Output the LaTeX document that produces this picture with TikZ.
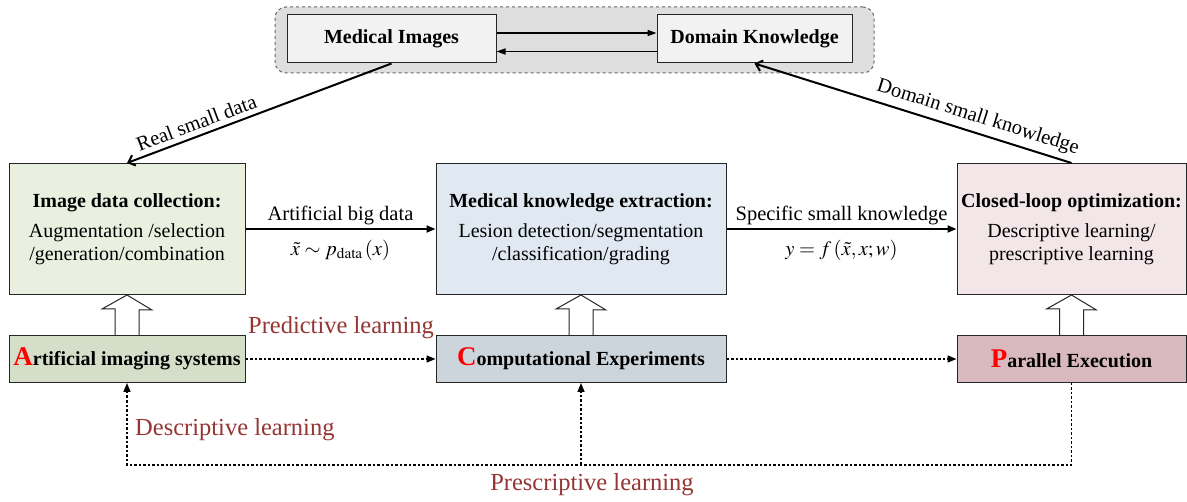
\documentclass[tikz,border=0pt]{standalone}
\usepackage{mathptmx}
\usepackage[no-math]{fontspec}
\setmainfont{Liberation Serif}
\usetikzlibrary{arrows.meta,calc}
\definecolor{grpfill}{HTML}{DEDEDE}
\definecolor{topfill}{HTML}{F2F2F2}
\definecolor{idcfill}{HTML}{E9F0DF}
\definecolor{mkefill}{HTML}{E0E9F1}
\definecolor{clofill}{HTML}{F2E6E8}
\definecolor{aisfill}{HTML}{D4DEC9}
\definecolor{cefill}{HTML}{CCD5DC}
\definecolor{pefill}{HTML}{D8B9BE}
\definecolor{lblred}{HTML}{943634}
\newcommand{\bigred}[1]{{\fontsize{27}{27}\selectfont\color{red}#1}}
\begin{document}
\begin{tikzpicture}[x=1pt,y=-1pt,
  txt/.style={font=\fontsize{20}{23}\selectfont},
  box/.style={draw=black!85, line width=1pt, inner sep=0pt, align=center, txt},
  grp/.style={draw=black!60, dashed, line width=1pt, fill=grpfill, rounded corners=11pt,
     minimum width=599pt, minimum height=66pt},
  topbox/.style={box, fill=topfill, minimum height=48pt, font=\fontsize{20}{23}\selectfont\bfseries},
  midbox/.style={box, minimum height=131pt},
  lowbox/.style={box, minimum height=47pt, font=\fontsize{20}{23}\selectfont\bfseries},
  toparrow/.style={line width=1.5pt, -{Triangle[length=9pt,width=6pt]}},
  mainarrow/.style={line width=2pt, -{Triangle[length=9pt,width=7pt]}},
  barbarrow/.style={line width=2pt, -{Straight Barb[length=6pt,width=11pt]}},
  dotarrow/.style={line width=1.5pt, dash pattern=on 2.5pt off 2pt, -{Triangle[length=9pt,width=7pt]}},
  hollow/.style={draw=black!85, line width=1pt, fill=white},
  lbl/.style={font=\fontsize{20.5}{23}\selectfont, inner sep=2pt},
  redlbl/.style={font=\fontsize{24.5}{27}\selectfont, text=lblred, inner sep=0pt}
]
\useasboundingbox (0,0) rectangle (1187,502);

% top group
\node[grp] (grp) at (574.5,40) {};
\node[topbox, minimum width=209pt] (mi) at (391.5,39) {Medical Images};
\node[topbox, minimum width=195pt] (dk) at (754.5,39) {Domain Knowledge};
\draw[toparrow] ([yshift=6pt]mi.east) -- ([yshift=6pt]dk.west);
\draw[toparrow] ([yshift=-12.5pt]dk.west) -- ([yshift=-12.5pt]mi.east);

% middle row
\node[midbox, fill=idcfill, minimum width=236pt] (idc) at (127,229)
  {\textbf{Image data collection:}\\[7pt] Augmentation /selection\\ /generation/combination};
\node[midbox, fill=mkefill, minimum width=290pt] (mke) at (581,229)
  {\textbf{Medical knowledge extraction:}\\[7pt] Lesion detection/segmentation\\ /classification/grading};
\node[midbox, fill=clofill, minimum width=229pt] (clo) at (1071.5,229)
  {\textbf{Closed-loop optimization:}\\[7pt] Descriptive learning/\\ prescriptive learning};

% bottom row
\node[lowbox, fill=aisfill, minimum width=236pt] (ais) at (127,359)
  {\bigred{A}rtificial imaging systems};
\node[lowbox, fill=cefill, minimum width=290pt] (ce) at (581,359)
  {\bigred{C}omputational Experiments};
\node[lowbox, fill=pefill, minimum width=229pt] (pe) at (1071.5,359)
  {\bigred{P}arallel Execution};

% hollow block arrows
\foreach \lo/\hi in {ais/idc, ce/mke, pe/clo}{
  \draw[hollow] ([xshift=-12pt]\lo.north) -- ++(0,-26) -- ++(-13,0) -- (\hi.south)
     -- ++(25,15) -- ++(-13,0) -- ([xshift=12pt]\lo.north);
}

% main connectors
\draw[mainarrow] (idc.east) --
  node[lbl, above=1pt] (abd) {Artificial big data}
  node[lbl, below=8pt] (abf) {$\tilde{x}\sim p_{\mathrm{data}}\,(x)$} (mke.west);
\draw[mainarrow] (mke.east) --
  node[lbl, above=1pt] (ssk) {Specific small knowledge}
  node[lbl, below=8pt] (ssf) {$y=f\,(\tilde{x},x;w)$} (clo.west);

\draw[barbarrow] (mi.south) --
  node[lbl, sloped, above=3pt, pos=0.72] (rsd) {Real small data} (idc.north);
\draw[barbarrow] (clo.north) --
  node[lbl, sloped, above=3pt, pos=0.31] (dsk) {Domain small knowledge} (dk.south);

% dotted flows
\draw[dotarrow] (ais.east) -- (ce.west);
\draw[dotarrow] (ce.east) -- (pe.west);
\node[redlbl] (pl) at (341,328) {Predictive learning};

\coordinate (bl) at (127,465);
\coordinate (br) at (pe.south |- bl);
\coordinate (bm) at (ce.south |- bl);
\draw[dotarrow] (pe.south) -- (br) -- (bl) -- (ais.south);
\draw[dotarrow] (bm) -- (ce.south);
\node[redlbl, anchor=west] (dl) at (135,430) {Descriptive learning};
\node[redlbl] (prl) at (592,485) {Prescriptive learning};
\end{tikzpicture}
\end{document}
